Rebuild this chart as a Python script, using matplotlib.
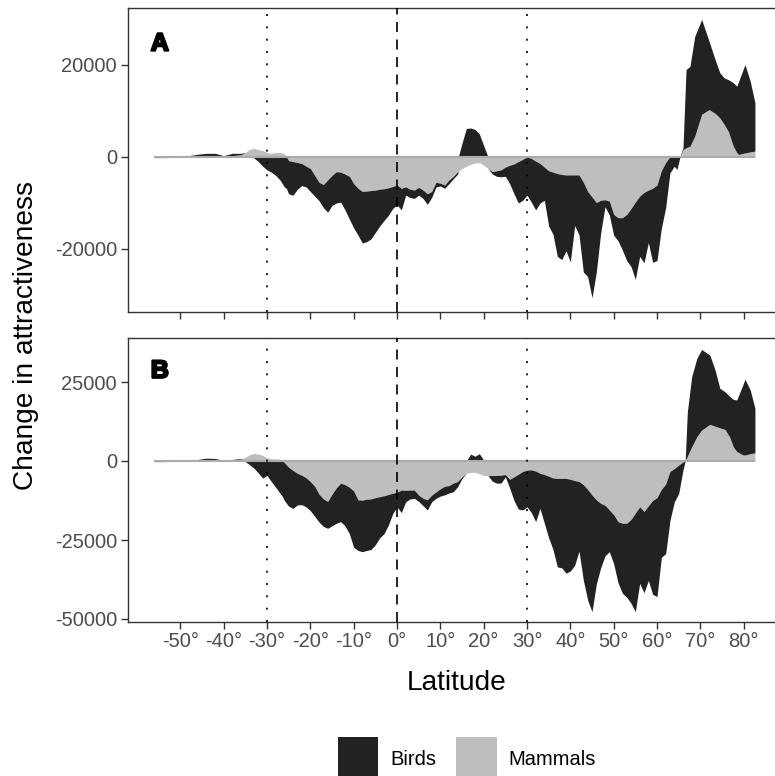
import numpy as np
import matplotlib
matplotlib.use("Agg")
import matplotlib.pyplot as plt
from matplotlib.patches import Patch
import matplotlib.patheffects as pe

plt.rcParams['font.family'] = ['Liberation Sans', 'DejaVu Sans']

# ---------------- data ----------------
lat_core = [-56, -54, -52, -50, -48, -46, -44, -42, -40, -38] + list(range(-36, 64))

mammals_a_core = [-200, -200, -100, 0, 0, 100, 100, 100, 100, 300,
                  500, 1000, 1700, 1900, 1600, 1400, 1000, 800, 1000, 1000,
                  700, -800, -1000, -1200, -1400, -2000, -2500, -4000, -5500, -6000,
                  -5000, -4000, -3200, -3300, -3700, -4200, -5800, -6800, -7500, -7400,
                  -7300, -7200, -7000, -6900, -6700, -6400, -6100, -6800, -6500, -7000,
                  -7200, -6600, -7200, -8000, -7500, -5500, -5700, -6100, -5000, -4200,
                  -3200, -2500, -2000, -1600, -1300, -1200, -1800, -2500, -3200, -3000,
                  -2800, -2200, -1800, -1500, -1000, -500, 0, -300, -900, -1400,
                  -2200, -3000, -3300, -3600, -3800, -3900, -3900, -3900, -3900, -5500,
                  -7500, -8700, -9900, -9400, -9300, -9600, -12500, -13200, -13200, -12500,
                  -11200, -9800, -8500, -7700, -7200, -6800, -6100, -3000, -1200, 100]
birds_a_core = [0, 0, 0, 300, 300, 500, 700, 700, 200, 500,
                300, 0, 0, -200, -1000, -2000, -2800, -3300, -4000, -5000,
                -6500, -7200, -7300, -5800, -4800, -4500, -5000, -4500, -4000, -5000,
                -7000, -6500, -6800, -6500, -7800, -9300, -9600, -10200, -11200, -11000,
                -10500, -9200, -8000, -6900, -6000, -4800, -4300, -4700, -1800, -1800,
                -1800, -1700, -1800, -2300, -1300, -1000, -600, -700, -800, -500,
                -500, 3000, 6200, 6300, 6000, 5000, 2500, 0, -500, -1200,
                -1500, -2000, -4000, -6500, -9000, -8900, -8300, -9500, -10600, -8600,
                -7200, -12000, -13500, -18000, -18500, -16500, -18900, -11000, -13000, -19500,
                -18500, -21900, -15100, -7100, -1500, -3000, -4500, -5000, -7000, -10000,
                -12600, -16800, -13100, -15300, -11400, -16100, -16400, -12500, -9800, -3400]

lat_tail_a = [64, 64.6, 65.3, 66, 66.7, 67.6, 68.7, 70.3, 72, 73.4,
              74.5, 75.5, 76.5, 77.6, 78.4, 78.8, 80.3, 81.5, 82.6]
mammals_a_tail = [150, 150, 200, 1600, 2000, 2350, 4500, 9300, 10300, 9500,
                  8500, 7100, 5500, 2350, 1000, 540, 900, 1100, 1300]
birds_a_tail = [-2000, -2700, 0, 400, 17000, 17350, 21700, 20600, 14900, 11700,
                9800, 10100, 11300, 13800, 14400, 15800, 19200, 15400, 10500]

mammals_b_core = [-300, -300, -100, 0, 0, 100, 100, 100, 0, 200,
                  600, 1200, 2000, 2400, 2200, 1800, 1000, 700, 700, 600,
                  -500, -2000, -3000, -3900, -4500, -5300, -6500, -8000, -10500, -12000,
                  -12800, -10500, -8500, -7000, -7500, -8300, -9500, -12300, -12400, -12100,
                  -12000, -11600, -11300, -11000, -10600, -10200, -9900, -9200, -9300, -9200,
                  -9200, -10800, -11800, -12300, -10800, -9800, -8800, -8000, -7800, -7000,
                  -6500, -5000, -3900, -3600, -3600, -4000, -4600, -4600, -4600, -4600,
                  -4500, -4300, -5800, -5000, -4200, -3300, -2900, -2800, -3200, -3900,
                  -4300, -4800, -5400, -5500, -5500, -5500, -5800, -6200, -6500, -7500,
                  -9000, -10800, -12300, -13400, -14000, -15500, -17000, -19200, -19700, -19700,
                  -18500, -16500, -14500, -16000, -14200, -12500, -11600, -9000, -7300, -3300]
birds_b_core = [0, 0, 0, 300, 300, 400, 800, 700, 200, 300,
                200, -200, -1200, -2300, -3800, -5400, -4600, -6500, -8300, -10200,
                -12000, -12300, -12000, -10000, -9300, -9200, -9200, -9500, -8800, -8700,
                -8500, -10000, -11200, -12200, -13000, -14700, -17800, -16000, -16300, -16200,
                -16000, -14900, -13000, -12000, -9700, -6500, -4600, -7100, -3600, -2800,
                -2600, -2000, -2300, -3200, -2100, -2000, -2300, -2700, -2300, -2700,
                -1600, -500, 0, 2200, 1500, 2300, 300, 0, -1800, -2400,
                -2500, -700, -2800, -7500, -11000, -12200, -11600, -13500, -16000, -11100,
                -15400, -19500, -22600, -28000, -28300, -30000, -29000, -26800, -22000, -30200,
                -35000, -36900, -26600, -20400, -16000, -13200, -15500, -19300, -22100, -23400,
                -26500, -31200, -24200, -25700, -23600, -29700, -31300, -21500, -22000, -15400]

lat_tail_b = [64, 65, 66, 66.5, 67, 68, 69.2, 70.3, 72.2, 73.4,
              74.5, 75.7, 76.8, 77.6, 78.4, 79.9, 80.3, 81.5, 82.6]
mammals_b_tail = [-2400, -1300, -300, 0, 1500, 4500, 7700, 9800, 11600, 11000,
                  10500, 10000, 7500, 4500, 3000, 1900, 1900, 2300, 2600]
birds_b_tail = [-10500, -9000, -2500, 0, 14000, 22200, 24800, 25500, 21900, 17800,
                12500, 11900, 12900, 15000, 16300, 22500, 24000, 20200, 14100]

yticks_a = [-20000, 0, 20000]
yticks_b = [-50000, -25000, 0, 25000]
xticks = list(range(-50, 90, 10))
xticklabels = [f"{t}°" for t in xticks]
series_names = ["Birds", "Mammals"]
panel_labels = ["A", "B"]

# ---------------- style ----------------
BIRD_C = '#222222'
MAMM_C = '#BEBEBE'
W, H = 775, 776
fig = plt.figure(figsize=(W / 100, H / 100), dpi=100)

def px_box(l, t, r, b):
    return [l / W, 1 - b / H, (r - l) / W, (b - t) / H]

axA = fig.add_axes(px_box(128, 8, 779, 312))
axB = fig.add_axes(px_box(128, 338, 779, 622))

def draw(ax, lat, m, b):
    lat = np.asarray(lat, float)
    xf = np.linspace(lat.min(), lat.max(), 6000)
    mf = np.interp(xf, lat, m)
    bf = np.interp(xf, lat, b)
    mp, mn = np.maximum(mf, 0), np.minimum(mf, 0)
    bp, bn = np.maximum(bf, 0), np.minimum(bf, 0)
    ax.fill_between(xf, mn, mp, color=MAMM_C, lw=0, zorder=2)
    ax.fill_between(xf, mp, mp + bp, color=BIRD_C, lw=0, zorder=2)
    ax.fill_between(xf, mn, mn + bn, color=BIRD_C, lw=0, zorder=2)
    ax.plot([lat.min(), lat.max()], [0, 0], color='#ABABAB', lw=1.5,
            zorder=3, solid_capstyle='butt')
    ax.axvline(-30, color='black', lw=1.2, ls=(0, (1.2, 6.2)), zorder=4,
               dash_capstyle='butt')
    ax.axvline(30, color='black', lw=1.2, ls=(0, (1.2, 6.2)), zorder=4,
               dash_capstyle='butt')
    ax.axvline(0, color='black', lw=1.2, ls=(0, (6, 4.5)), zorder=4)

draw(axA, lat_core + lat_tail_a, mammals_a_core + mammals_a_tail,
     birds_a_core + birds_a_tail)
draw(axB, lat_core + lat_tail_b, mammals_b_core + mammals_b_tail,
     birds_b_core + birds_b_tail)

ppd = 43.333 / 10  # pixels per degree
xlim = ((128 - 397) / ppd, (779 - 397) / ppd)
axA.set_xlim(*xlim)
axB.set_xlim(*xlim)
axA.set_ylim((157 - 312) * 20000 / 92, (157 - 8) * 20000 / 92)
axB.set_ylim((461 - 622) * 25000 / 79, (461 - 338) * 25000 / 79)

for ax, yt in ((axA, yticks_a), (axB, yticks_b)):
    ax.set_yticks(yt)
    ax.set_yticklabels([str(v) for v in yt])
    ax.set_xticks(xticks)
    ax.tick_params(axis='both', length=5, width=1.0, color='#333333',
                   labelsize=14.5, labelcolor='#4D4D4D', pad=3)
    for s in ax.spines.values():
        s.set_color('#333333')
        s.set_linewidth(1.0)
    ax.set_facecolor('white')

axA.set_xticklabels([])
axB.set_xticklabels(xticklabels)
axB.tick_params(axis='x', pad=2)

for ax, lab in ((axA, panel_labels[0]), (axB, panel_labels[1])):
    ax.text(0.035, 0.86, lab, transform=ax.transAxes, fontsize=18,
            fontweight='bold', color='black', va='baseline', ha='left',
            path_effects=[pe.withStroke(linewidth=1.6, foreground='black')])

fig.text(26 / W, 1 - 335 / H, "Change in attractiveness", rotation=90,
         ha='center', va='center', fontsize=20.2, color='black')
fig.text(457 / W, 1 - 683 / H, "Latitude", ha='center', va='center',
         fontsize=20.2, color='black')

handles = [Patch(facecolor=BIRD_C, edgecolor='none'),
           Patch(facecolor=MAMM_C, edgecolor='none')]
fig.legend(handles, series_names, loc='upper center', ncol=2,
           bbox_to_anchor=(467 / W, 1 - 737 / H), frameon=False,
           fontsize=14.5, handlelength=2.0, handleheight=3.0,
           handletextpad=0.6, columnspacing=1.0, borderpad=0,
           borderaxespad=0)

fig.savefig("out.png", dpi=100)
